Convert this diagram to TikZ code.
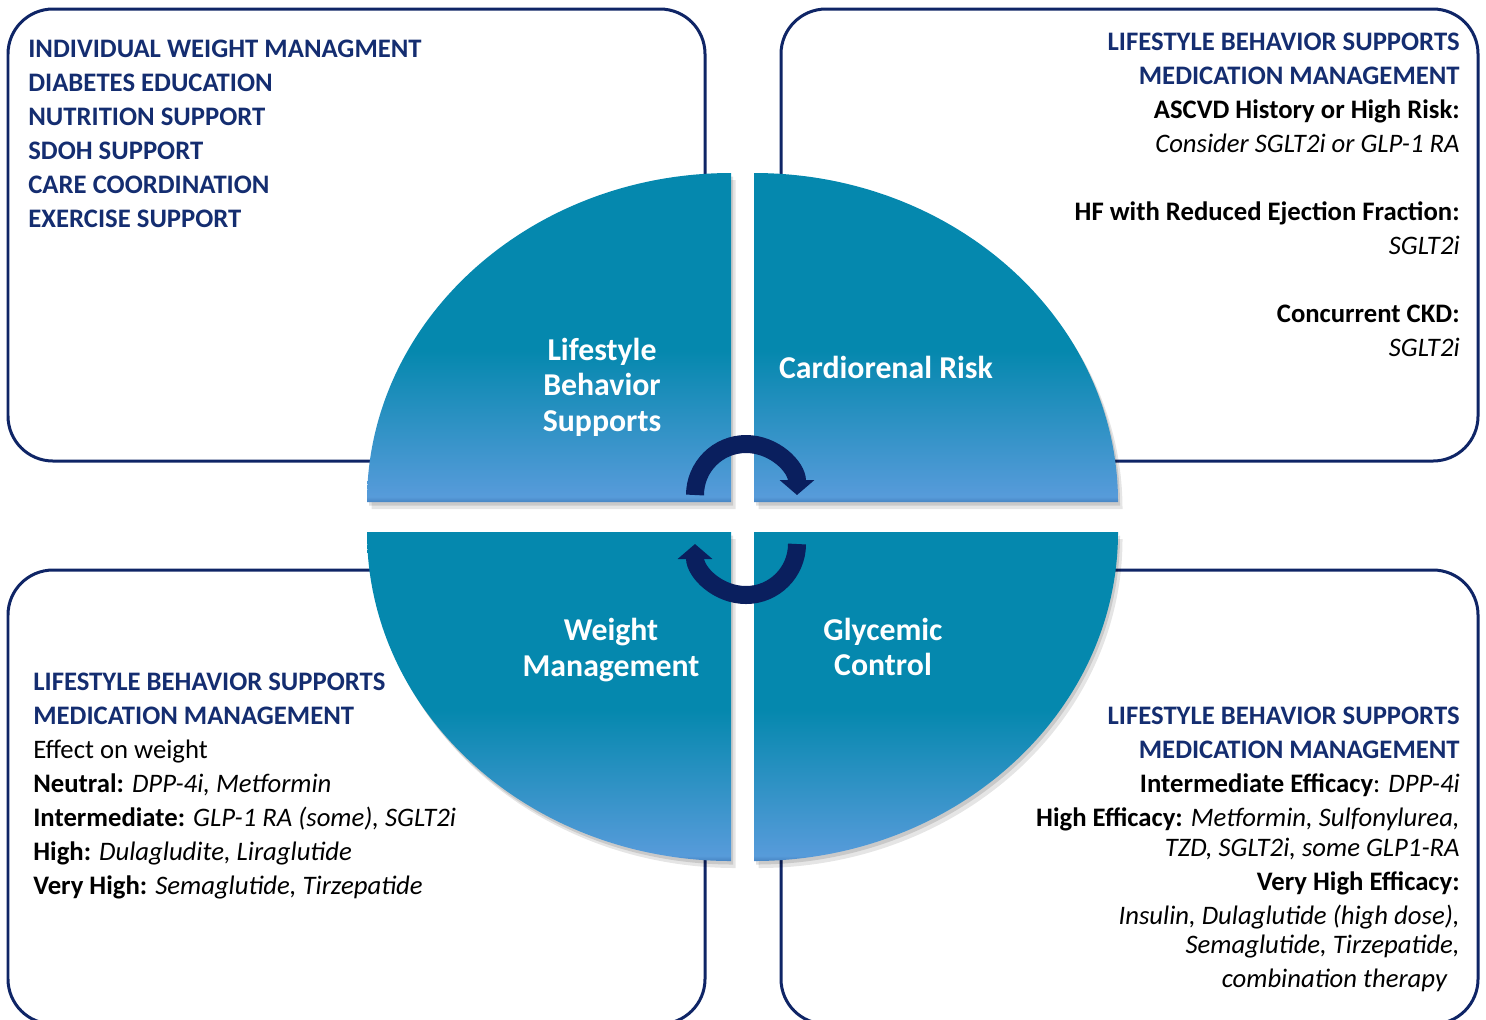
\documentclass[tikz,border=0pt]{standalone}
\usepackage{fontspec}
\setmainfont{Carlito}
\usepackage{xcolor}
\usetikzlibrary{arrows.meta}

\definecolor{boxnavy}{HTML}{0F2566}
\definecolor{textnavy}{HTML}{142D70}
\definecolor{arrownavy}{HTML}{0A1F5E}
\definecolor{qteal}{HTML}{0588AE}
\definecolor{qlight}{HTML}{579BDA}
\definecolor{qdark}{HTML}{4784C2}
\pgfdeclareverticalshading{quadshade}{100bp}{color(0bp)=(qdark); color(25bp)=(qdark); color(25.8bp)=(qlight); color(48bp)=(qteal); color(100bp)=(qteal)}
\newcommand{\boxhead}[1]{{\color{textnavy}\bfseries #1}}

\begin{document}
\begin{tikzpicture}[
    x=0.02cm, y=0.02cm,
    panel/.style={draw=boxnavy, line width=0.06cm, rounded corners=0.9cm},
    quadrant/.style={shading=quadshade,
        preaction={fill=black, fill opacity=0.10, transform canvas={xshift=0.09cm, yshift=-0.14cm}},
        preaction={fill=black, fill opacity=0.12, transform canvas={xshift=0.04cm, yshift=-0.07cm}}},
    quadlabel/.style={text=white, font=\fontsize{18.1}{20.2}\selectfont\bfseries, align=center},
    boxtext/.style={inner sep=0pt, font=\fontsize{15.2}{19.3}\selectfont},
    turn/.style={draw=arrownavy, line width=0.36cm, -{Triangle[width=0.68cm, length=0.3cm]}}
]
    \useasboundingbox (0,0) rectangle (1486,-1019);

    % Outer panels
    \draw[panel] (8,-9) rectangle (705,-461);
    \draw[panel] (781,-9) rectangle (1478,-461);
    \draw[panel] (8,-570) rectangle (705,-1024);
    \draw[panel] (781,-570) rectangle (1478,-1024);

    % Quadrants
    \shade[quadrant] (731,-502) -- (367,-502) arc[start angle=180, end angle=90, x radius=364, y radius=329] -- cycle;
    \shade[quadrant] (754,-502) -- (754,-173) arc[start angle=90, end angle=0, x radius=364, y radius=329] -- cycle;
    \shade[quadrant] (731,-532) -- (731,-861) arc[start angle=270, end angle=180, x radius=364, y radius=329] -- cycle;
    \shade[quadrant] (754,-532) -- (1118,-532) arc[start angle=0, end angle=-90, x radius=364, y radius=329] -- cycle;

    % Quadrant labels
    \node[quadlabel] (lifestyle) at (602,-387) {Lifestyle\\Behavior\\Supports};
    \node[quadlabel] (cardio) at (886,-367) {Cardiorenal Risk};
    \node[quadlabel] (weight) at (611,-650) {Weight\\Management};
    \node[quadlabel] (glycemic) at (883,-647) {Glycemic\\Control};

    % Cycle arrows
    \draw[turn] (695,-495) arc[start angle=180, end angle=0, radius=51];
    \draw[turn] (797,-544) arc[start angle=0, end angle=-180, radius=51];

    % Panel texts
    \node[boxtext, anchor=north west, align=left, text=textnavy, font=\fontsize{15.2}{19.3}\selectfont\bfseries] (supports) at (28,-40)
        {INDIVIDUAL WEIGHT MANAGMENT\\DIABETES EDUCATION\\NUTRITION SUPPORT\\SDOH SUPPORT\\CARE COORDINATION\\EXERCISE SUPPORT};

    \node[boxtext, anchor=north east, align=right] (cardiotext) at (1460,-33)
        {\boxhead{LIFESTYLE BEHAVIOR SUPPORTS}\\
         \boxhead{MEDICATION MANAGEMENT}\\
         \textbf{ASCVD History or High Risk:}\\
         \textit{Consider SGLT2i or GLP-1 RA}\\[19.3pt]
         \textbf{HF with Reduced Ejection Fraction:}\\
         \textit{SGLT2i}\\[19.3pt]
         \textbf{Concurrent CKD:}\\
         \textit{SGLT2i}};

    \node[boxtext, anchor=north west, align=left] (weighttext) at (33,-673)
        {\boxhead{LIFESTYLE BEHAVIOR SUPPORTS}\\
         \boxhead{MEDICATION MANAGEMENT}\\
         Effect on weight\\
         \textbf{Neutral:} \textit{DPP-4i, Metformin}\\
         \textbf{Intermediate:} \textit{GLP-1 RA (some), SGLT2i}\\
         \textbf{High:} \textit{Dulagludite, Liraglutide}\\
         \textbf{Very High:} \textit{Semaglutide, Tirzepatide}};

    \node[boxtext, anchor=north east, align=right] (glycemictext) at (1460,-707)
        {\boxhead{LIFESTYLE BEHAVIOR SUPPORTS}\\
         \boxhead{MEDICATION MANAGEMENT}\\
         \textbf{Intermediate Efficacy}: \textit{DPP-4i}\\
         \textbf{High Efficacy:} \textit{Metformin, Sulfonylurea,}\\[-2.3pt]
         \textit{TZD, SGLT2i, some GLP1-RA}\\
         \textbf{Very High Efficacy:}\\
         \textit{Insulin, Dulaglutide (high dose),}\\[-2.8pt]
         \textit{Semaglutide, Tirzepatide,}\\
         \textit{combination therapy}\hspace*{0.24cm}};

\end{tikzpicture}
\end{document}
